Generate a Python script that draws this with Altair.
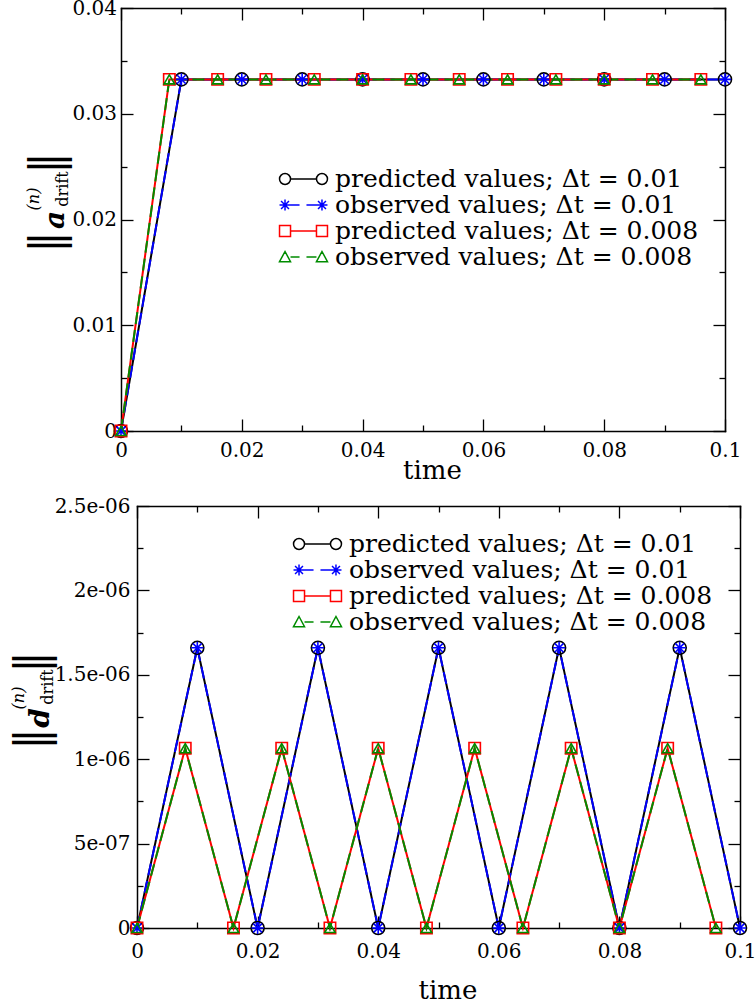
import altair as alt
import pandas as pd

# ---------------- data ----------------
SERIES = [
    "predicted values; Δt = 0.01",
    "observed values; Δt = 0.01",
    "predicted values; Δt = 0.008",
    "observed values; Δt = 0.008",
]
COLORS = ["#000000", "#0000ff", "#ff0000", "#008c00"]

TIME_DT01 = [0.0, 0.01, 0.02, 0.03, 0.04, 0.05, 0.06, 0.07, 0.08, 0.09, 0.1]
TIME_DT008 = [0.0, 0.008, 0.016, 0.024, 0.032, 0.04, 0.048, 0.056, 0.064, 0.072, 0.08, 0.088, 0.096]

A_PRED_DT01 = [0.0, 0.03325, 0.03325, 0.03325, 0.03325, 0.03325, 0.03325, 0.03325, 0.03325, 0.03325, 0.03325]
A_OBS_DT01 = [0.0, 0.03325, 0.03325, 0.03325, 0.03325, 0.03325, 0.03325, 0.03325, 0.03325, 0.03325, 0.03325]
A_PRED_DT008 = [0.0, 0.03325, 0.03325, 0.03325, 0.03325, 0.03325, 0.03325, 0.03325, 0.03325, 0.03325, 0.03325, 0.03325, 0.03325]
A_OBS_DT008 = [0.0, 0.03325, 0.03325, 0.03325, 0.03325, 0.03325, 0.03325, 0.03325, 0.03325, 0.03325, 0.03325, 0.03325, 0.03325]

D_PRED_DT01 = [0.0, 1.66e-06, 0.0, 1.66e-06, 0.0, 1.66e-06, 0.0, 1.66e-06, 0.0, 1.66e-06, 0.0]
D_OBS_DT01 = [0.0, 1.66e-06, 0.0, 1.66e-06, 0.0, 1.66e-06, 0.0, 1.66e-06, 0.0, 1.66e-06, 0.0]
D_PRED_DT008 = [0.0, 1.065e-06, 0.0, 1.065e-06, 0.0, 1.065e-06, 0.0, 1.065e-06, 0.0, 1.065e-06, 0.0, 1.065e-06, 0.0]
D_OBS_DT008 = [0.0, 1.065e-06, 0.0, 1.065e-06, 0.0, 1.065e-06, 0.0, 1.065e-06, 0.0, 1.065e-06, 0.0, 1.065e-06, 0.0]

X_MAJOR = [0, 0.02, 0.04, 0.06, 0.08, 0.1]
X_MINOR = [0.01, 0.03, 0.05, 0.07, 0.09]
A_MAJOR = [0, 0.01, 0.02, 0.03, 0.04]
A_MINOR = [0.005, 0.015, 0.025, 0.035]
D_MAJOR = [0, 5e-07, 1e-06, 1.5e-06, 2e-06, 2.5e-06]
D_MINOR = [2.5e-07, 7.5e-07, 1.25e-06, 1.75e-06, 2.25e-06]

FONT = "DejaVu Serif"


def table(p01, o01, p008, o008):
    rows = []
    times = [TIME_DT01, TIME_DT01, TIME_DT008, TIME_DT008]
    for name, ts, vs in zip(SERIES, times, [p01, o01, p008, o008]):
        for t, v in zip(ts, vs):
            rows.append({"time": t, "value": v, "series": name})
    return pd.DataFrame(rows)


# ---------------- marker / legend symbol paths ----------------
R = 0.5      # marker radius in legend-symbol units (1 unit = 11 px)
C = 1.68     # marker centre
E = 1.18     # inner end of connecting line


def f(v):
    return f"{v:.3f}"


def circ(c):
    return f"M{f(c-R)},0A{f(R)},{f(R)},0,1,0,{f(c+R)},0A{f(R)},{f(R)},0,1,0,{f(c-R)},0"


def sq(c):
    return f"M{f(c-R)},{f(-R)}L{f(c+R)},{f(-R)}L{f(c+R)},{f(R)}L{f(c-R)},{f(R)}Z"


def tri(c):
    return f"M{f(c-R)},{f(R*0.85)}L{f(c)},{f(-R)}L{f(c+R)},{f(R*0.85)}Z"


def star(c):
    d = R * 0.72
    return (f"M{f(c-R)},0L{f(c+R)},0M{f(c)},{f(-R)}L{f(c)},{f(R)}"
            f"M{f(c-d)},{f(-d)}L{f(c+d)},{f(d)}M{f(c-d)},{f(d)}L{f(c+d)},{f(-d)}")


SOLID = f"M{f(-E)},0L{f(E)},0"
DASHED = f"M{f(-E)},0L-0.360,0M0.270,0L{f(E)},0"
LEG_PATHS = [
    circ(-C) + SOLID + circ(C),
    star(-C) + DASHED + star(C),
    sq(-C) + SOLID + sq(C),
    tri(-C) + DASHED + tri(C),
]
STAR_MARK = "M-1,0L1,0M0,-1L0,1M-0.72,-0.72L0.72,0.72M-0.72,0.72L0.72,-0.72"
MARKERS = ["circle", STAR_MARK, "square", "triangle-up"]
MARKER_SIZES = [169, 110, 130, 150]


def tick_axis(orient, values, size, offset, **kw):
    return alt.Axis(orient=orient, values=values, tickSize=size, offset=offset,
                    domain=False, grid=False, ticks=True, **kw)


def frame_axis(orient, offset):
    return alt.Axis(orient=orient, offset=offset, domain=True, domainColor="black",
                    domainWidth=1.5, domainCap="square", ticks=False, labels=False,
                    grid=False)


def panel(df, W, H, shift, ydom, ymaj, ymin, yfmt_expr, legxy, title_pieces,
          xlp, ylp, tpad):
    xs = alt.Scale(domain=[0, 0.1], nice=False, zero=False, range=[-shift, W])
    ys = alt.Scale(domain=ydom, nice=False, zero=False)
    cscale = alt.Scale(domain=SERIES, range=COLORS)
    base = alt.Chart(df)
    empty = base.transform_filter("false")

    lines = base.mark_line(strokeWidth=2).encode(
        x=alt.X("time:Q", scale=xs, title="time",
                axis=tick_axis("bottom", X_MAJOR, 12, -12, labelFlush=False, labelOverlap=False,
                               labelPadding=xlp, format="~g", titlePadding=tpad,
                               titleX=(W - shift) / 2 + 9)),
        y=alt.Y("value:Q", scale=ys, title=None,
                axis=tick_axis("left", ymaj, 12, shift - 12, labelPadding=ylp,
                               labelExpr=yfmt_expr, labelOverlap=False)),
        color=alt.Color("series:N", scale=cscale, legend=None),
        strokeDash=alt.StrokeDash("series:N", legend=None,
                                  scale=alt.Scale(domain=SERIES,
                                                  range=[[1, 0], [12, 6], [1, 0], [12, 6]])),
    )

    points = base.mark_point(filled=False, opacity=1, strokeWidth=1.6).encode(
        x=alt.X("time:Q", scale=xs, title=None,
                axis=tick_axis("top", X_MAJOR, 12, -12, labels=False)),
        y=alt.Y("value:Q", scale=ys, title=None,
                axis=tick_axis("right", ymaj, 12, -12, labels=False)),
        color=alt.Color("series:N", scale=cscale, legend=None),
        shape=alt.Shape("series:N", scale=alt.Scale(domain=SERIES, range=MARKERS), legend=None),
        size=alt.Size("series:N", scale=alt.Scale(domain=SERIES, range=MARKER_SIZES), legend=None),
    )

    leg = alt.Legend(orient="none", legendX=legxy[0], legendY=legxy[1], title=None,
                     padding=0, labelFont=FONT, labelFontSize=25, labelColor="black",
                     labelOffset=19, labelLimit=600, symbolSize=484, symbolStrokeWidth=1.5,
                     symbolFillColor="transparent", symbolOpacity=1, rowPadding=0)
    legend_layer = empty.mark_point(filled=False, opacity=1).encode(
        x=alt.X("time:Q", scale=xs, title=None,
                axis=tick_axis("bottom", X_MINOR, 6, -6, labels=False)),
        y=alt.Y("value:Q", scale=ys, title=None,
                axis=tick_axis("left", ymin, 6, shift - 6, labels=False)),
        color=alt.Color("series:N", scale=cscale, legend=leg),
        shape=alt.Shape("series:N", scale=alt.Scale(domain=SERIES, range=LEG_PATHS), legend=leg),
    )

    minor2 = empty.mark_point(opacity=0).encode(
        x=alt.X("time:Q", scale=xs, title=None,
                axis=tick_axis("top", X_MINOR, 6, -6, labels=False)),
        y=alt.Y("value:Q", scale=ys, title=None,
                axis=tick_axis("right", ymin, 6, -6, labels=False)),
    )
    frame1 = empty.mark_point(opacity=0).encode(
        x=alt.X("time:Q", scale=xs, title=None, axis=frame_axis("bottom", 0)),
        y=alt.Y("value:Q", scale=ys, title=None, axis=frame_axis("left", shift)),
    )
    frame2 = empty.mark_point(opacity=0).encode(
        x=alt.X("time:Q", scale=xs, title=None, axis=frame_axis("top", 0)),
        y=alt.Y("value:Q", scale=ys, title=None, axis=frame_axis("right", 0)),
    )

    one = alt.Chart(pd.DataFrame({"k": [0]}))
    texts = []
    for txt, xv, yv, size, style, weight, bl in title_pieces:
        texts.append(one.mark_text(text=txt, angle=270, align="center", baseline=bl, font=FONT,
                                   fontSize=size, fontStyle=style, fontWeight=weight,
                                   color="black").encode(x=alt.value(xv), y=alt.value(yv)))

    return alt.layer(frame1, frame2, lines, points, legend_layer, minor2, *texts).resolve_scale(
        color="independent", shape="independent", size="independent", strokeDash="independent"
    ).resolve_axis(x="independent", y="independent").properties(width=W, height=H)


df_a = table(A_PRED_DT01, A_OBS_DT01, A_PRED_DT008, A_OBS_DT008)
df_d = table(D_PRED_DT01, D_OBS_DT01, D_PRED_DT008, D_OBS_DT008)

# title pieces: (text, x, y, size, style, weight, baseline) relative to the panel origin
top_title = [
    ("‖", -89, 234, 44, "normal", "normal", "middle"),
    ("a", -73, 212, 28, "italic", "bold", "alphabetic"),
    ("(n)", -98, 191, 16, "italic", "normal", "alphabetic"),
    ("drift", -69, 181, 16, "normal", "normal", "alphabetic"),
    ("‖", -89, 155, 44, "normal", "normal", "middle"),
]
bot_title = [
    ("‖", -104, 233, 44, "normal", "normal", "middle"),
    ("d", -88, 212, 28, "italic", "bold", "alphabetic"),
    ("(n)", -113, 192, 16, "italic", "normal", "alphabetic"),
    ("drift", -84, 181, 16, "normal", "normal", "alphabetic"),
    ("‖", -104, 156, 44, "normal", "normal", "middle"),
]

top = panel(df_a, 588, 423, 16, [0, 0.04], A_MAJOR, A_MINOR,
            "format(datum.value, '~g')", (154, 158.5), top_title, 9, 4.5, -2.5)
bottom = panel(df_d, 603, 422, 0, [0, 2.5e-06], D_MAJOR, D_MINOR,
               "datum.value == 0 ? '0' : replace(format(datum.value, '~e'), 'e-', 'e-0')",
               (168, 25.5), bot_title, 13, 7, 16.5)

chart = alt.vconcat(top, bottom, spacing=12).properties(
    padding={"left": 11, "top": -2, "right": 0, "bottom": 0}
).configure_view(
    strokeWidth=0
).configure_axis(
    labelFont=FONT, labelFontSize=20, labelColor="black", tickColor="black", tickWidth=1.3,
    titleFont=FONT, titleFontSize=26, titleFontWeight="normal", titleColor="black"
)

chart.save("out.html", embed_options={"renderer": "svg", "actions": False})
